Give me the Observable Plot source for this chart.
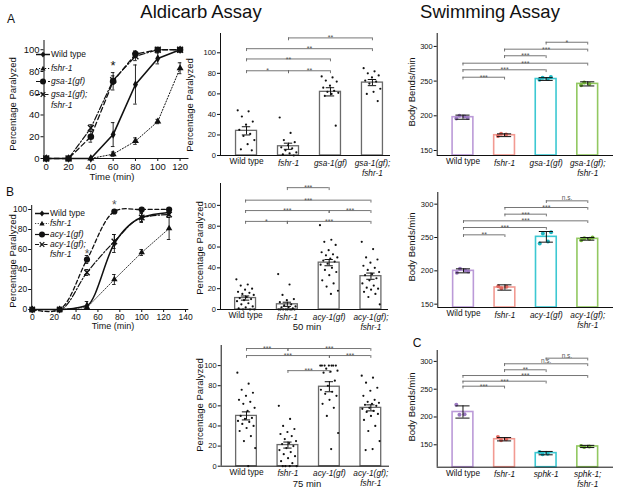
<!DOCTYPE html>
<html><head><meta charset="utf-8">
<script src="https://cdn.jsdelivr.net/npm/d3@7"></script>
<script src="https://cdn.jsdelivr.net/npm/@observablehq/plot@0.6"></script>
<style>
body{margin:0;background:#fff;font-family:"Liberation Sans",Arial,sans-serif;}
#fig{position:relative;width:617px;height:493px;overflow:hidden;background:#fff;}
.t{position:absolute;white-space:nowrap;color:#111;line-height:1;}
.lg{position:absolute;white-space:nowrap;color:#111;line-height:1;display:flex;align-items:center;}
</style></head><body><div id="fig"></div>
<script>
// ---------------- DATA ----------------
// A: aldicarb time course
const timeA = [0, 20, 40, 60, 80, 100, 120];
const wtA = [0, 0, 0, 22, 68, 92, 100];
const wtA_err = [0, 0, 0, 11, 18, 5, 0];
const fshrA = [0, 0, 0, 4, 16, 34, 83];
const fshrA_err = [0, 0, 0, 2, 3, 2, 5];
const gsaA = [0, 0, 20, 71, 96, 100, 100];
const gsaA_err = [0, 0, 5, 8, 3, 0, 0];
const gsaFshrA = [0, 0, 28, 72, 94, 100, 100];
const gsaFshrA_err = [0, 0, 3, 4, 4, 0, 0];
const starsA = [{t: 60, v: 85}];

// B: aldicarb time course
const timeB = [0, 25, 50, 75, 100, 125];
const wtB = [0, 0, 4, 66, 92, 97];
const wtB_err = [0, 0, 4, 9, 5, 3];
const fshrB = [0, 0, 2, 30, 57, 81];
const fshrB_err = [0, 0, 1, 5, 3, 11];
const acyB = [0, 0, 50, 98, 100, 100];
const acyB_err = [0, 0, 4, 1, 0, 0];
const acyFshrB = [0, 0, 37, 68, 92, 95];
const acyFshrB_err = [0, 0, 3, 7, 4, 3];
const starsB = [{t: 50, v: 55}, {t: 75, v: 104}];

// A: percentage paralyzed bars
const groupsA = ["Wild type", "fshr-1", "gsa-1(gf)", "gsa-1(gf);\nfshr-1"];
const paraA_mean = [24, 9, 62, 71];
const paraA_sem = [4, 3, 4, 3];
const paraA_pts = [
  [44, 43, 38, 33, 30, 25, 21, 19, 15, 11, 6, 5],
  [37, 22, 15, 13, 10, 8, 7, 5, 3, 2, 1, 0],
  [77, 76, 73, 72, 68, 66, 63, 62, 61, 60, 58, 29],
  [85, 82, 80, 78, 76, 73, 72, 70, 65, 62, 60, 53]
];
const paraA_sig = [[0, 1, "*"], [1, 2, "**"], [0, 2, "**"], [0, 3, "**"], [1, 3, "**"]];

// B: percentage paralyzed bars, 50 min and 75 min
const groupsB = ["Wild type", "fshr-1", "acy-1(gf)", "acy-1(gf);\nfshr-1"];
const para50_mean = [11, 5, 45, 32];
const para50_sem = [2, 2, 3, 3];
const para50_pts = [
  [29, 24, 23, 20, 19, 17, 16, 15, 14, 12, 11, 10, 9, 8, 6, 5, 3, 2, 1, 0, 0, 0],
  [34, 24, 14, 10, 9, 7, 5, 4, 3, 2, 2, 1, 0, 0, 0, 0, 0, 0, 0, 0],
  [81, 67, 65, 62, 57, 55, 53, 52, 50, 49, 47, 46, 44, 43, 40, 38, 36, 33, 28, 25, 22, 18, 15],
  [65, 58, 50, 48, 45, 42, 40, 38, 36, 34, 33, 30, 28, 25, 23, 21, 20, 19, 17, 15, 12, 5]
];
const para50_sig = [[0, 1, "*"], [1, 3, "***"], [0, 2, "***"], [2, 3, "***"], [0, 3, "***"], [1, 2, "***"]];

const para75_mean = [50, 21, 79, 58];
const para75_sem = [4, 3, 5, 3];
const para75_pts = [
  [93, 82, 76, 73, 70, 66, 64, 62, 58, 55, 50, 48, 47, 45, 44, 42, 40, 38, 35, 30, 25, 18, 0],
  [60, 47, 40, 37, 34, 32, 30, 27, 25, 23, 22, 20, 18, 16, 14, 12, 10, 8, 5, 3, 0, 0, 0, 0],
  [100, 100, 100, 100, 100, 100, 100, 97, 95, 94, 93, 85, 80, 76, 74, 72, 70, 66, 62, 58, 50, 33, 17],
  [90, 88, 83, 78, 75, 70, 66, 64, 63, 62, 61, 60, 58, 57, 55, 54, 52, 50, 46, 40, 35, 25, 17, 16]
];
const para75_sig = [[0, 1, "***"], [1, 3, "***"], [0, 2, "***"], [2, 3, "***"], [1, 2, "***"]];

// Swimming assays
const swimA_mean = [198, 172, 253, 246];
const swimA_sem = [3, 2, 2, 3];
const swimA_pts = [[196, 199, 200, 197], [171, 173, 174], [252, 253, 255, 256], [244, 246, 248]];
const swimA_sig = [[0, 1, "***"], [0, 2, "***"], [0, 3, "***"], [1, 2, "***"], [1, 3, "***"], [2, 3, "*"]];

const swimB_mean = [200, 175, 251, 248];
const swimB_sem = [3, 4, 8, 2];
const swimB_pts = [[197, 201, 203, 199], [177, 176, 174], [241, 244, 256, 258], [246, 248, 249, 250]];
const swimB_sig = [[0, 1, "**"], [0, 2, "***"], [0, 3, "***"], [1, 2, "***"], [1, 3, "***"], [2, 3, "n.s."]];

const groupsC = ["Wild type", "fshr-1", "sphk-1", "sphk-1;\nfshr-1"];
const swimC_mean = [209, 160, 135, 147];
const swimC_sem = [11, 3, 3, 2];
const swimC_pts = [[222, 205, 204], [164, 160, 158], [137, 134, 133], [148, 147, 146]];
const swimC_sig = [[0, 1, "***"], [0, 2, "***"], [0, 3, "***"], [1, 2, "**"], [1, 3, "n.s."], [2, 3, "n.s."]];

// ---------------- STYLE / LAYOUT ----------------
const FONT = "Liberation Sans, Arial, sans-serif";
const swimStroke = ["#bb9ad8", "#f29a92", "#3cc8d2", "#92c861"];
const swimFill = ["#9a78c0", "#e46a62", "#1fb5c1", "#72b03a"];
const fig = document.getElementById("fig");

function place(node, left, top) {
  node.style.position = "absolute";
  node.style.left = left + "px";
  node.style.top = top + "px";
  fig.appendChild(node);
}
function label(text, cx, cy, o = {}) {
  const d = document.createElement("div");
  d.className = "t";
  d.textContent = text;
  d.style.left = cx + "px";
  d.style.top = cy + "px";
  d.style.fontSize = (o.size || 9.5) + "px";
  if (o.italic) d.style.fontStyle = "italic";
  d.style.transform = `translate(-50%,-50%) rotate(${o.rotate || 0}deg)`;
  fig.appendChild(d);
}
function symSvg(sym, dash, w) {
  let m = "";
  if (sym === "diamond") m = '<polygon points="7,1.6 9.4,4.5 7,7.4 4.6,4.5" fill="#111"/>';
  if (sym === "triangle") m = '<polygon points="7,1.8 9.6,6.6 4.4,6.6" fill="#111"/>';
  if (sym === "circle") m = '<circle cx="7" cy="4.5" r="3" fill="#111"/>';
  if (sym === "times") m = '<path d="M4.7,2.2L9.3,6.8M9.3,2.2L4.7,6.8" stroke="#111" stroke-width="1.2"/>';
  return `<svg width="14" height="9" style="margin-right:1px"><line x1="0" x2="14" y1="4.5" y2="4.5" stroke="#111" stroke-width="${w}" ${dash ? `stroke-dasharray="${dash}"` : ""}/>${m}</svg>`;
}
function legend(x, rows, size) {
  for (const r of rows) {
    const d = document.createElement("div");
    d.className = "lg";
    d.style.fontSize = size + "px";
    d.innerHTML = (r.sym ? symSvg(r.sym, r.dash, r.w) : '<span style="display:inline-block;width:15px"></span>') +
      `<span style="${r.italic ? "font-style:italic" : ""}">${r.name}</span>`;
    d.style.left = x + "px";
    d.style.top = (r.y - 5) + "px";
    d.style.height = "10px";
    fig.appendChild(d);
  }
}

function lineChart(cfg) {
  const marks = [
    Plot.ruleX([cfg.xDomain[0]], {stroke: "#111", strokeWidth: 1}),
    Plot.ruleY([0], {stroke: "#111", strokeWidth: 1}),
    Plot.axisX({ticks: cfg.xTicks, tickSize: 3, tickPadding: 1.5, fontSize: cfg.font, label: null}),
    Plot.axisY({ticks: [0, 20, 40, 60, 80, 100], tickSize: 3, tickPadding: 1.5, fontSize: cfg.font, label: null})
  ];
  for (const s of cfg.series) {
    const rows = cfg.times.map((t, i) => ({t, v: s.v[i], e: s.e[i]}));
    const eb = rows.filter(d => d.e > 0);
    marks.push(
      Plot.line(rows, {x: "t", y: "v", curve: s.curve, stroke: "#111", strokeWidth: s.w, strokeDasharray: s.dash}),
      Plot.ruleX(eb, {x: "t", y1: d => d.v - d.e, y2: d => d.v + d.e, stroke: "#111", strokeWidth: 0.9}),
      Plot.ruleY(eb, {x1: d => d.t - cfg.cap, x2: d => d.t + cfg.cap, y: d => d.v + d.e, stroke: "#111", strokeWidth: 0.9}),
      Plot.ruleY(eb, {x1: d => d.t - cfg.cap, x2: d => d.t + cfg.cap, y: d => d.v - d.e, stroke: "#111", strokeWidth: 0.9}),
      Plot.dot(rows, {x: "t", y: "v", symbol: s.sym, r: s.r, fill: s.sym === "times" ? "none" : "#111", stroke: s.sym === "times" ? "#111" : "none", strokeWidth: 1.3})
    );
  }
  marks.push(Plot.text(cfg.stars, {x: "t", y: "v", text: () => "*", fontSize: cfg.starSize, fill: cfg.starColor}));
  return Plot.plot({
    width: cfg.width, height: cfg.height,
    marginLeft: cfg.ml, marginRight: cfg.mr, marginTop: cfg.mt, marginBottom: cfg.mb,
    x: {domain: cfg.xDomain}, y: {domain: cfg.yDomain},
    style: {background: "none", overflow: "visible", fontFamily: FONT, color: "#111"},
    marks
  });
}

function barChart(cfg) {
  const y0 = cfg.yDomain[0];
  const bars = cfg.groups.map((g, i) => ({i, g, m: cfg.means[i], s: cfg.sems[i],
    stroke: cfg.stroke ? cfg.stroke[i] : "#6a6a6a", fill: cfg.fill ? cfg.fill[i] : "#111"}));
  const dots = cfg.points.flatMap((arr, i) => arr.map((v, k) => ({x: i + (((k * 0.618034) % 1) - 0.5) * cfg.jitter, v, fill: bars[i].fill})));
  const br = cfg.sig.map(([a, b, lab], j) => ({a, b, lab, level: cfg.levels[j]}));
  const ends = br.flatMap(d => [{x: d.a, y: d.level}, {x: d.b, y: d.level}]);
  const stars = br.filter(d => d.lab.includes("*"));
  const words = br.filter(d => !d.lab.includes("*"));
  return Plot.plot({
    width: cfg.width, height: cfg.height,
    marginLeft: cfg.ml, marginRight: cfg.mr, marginTop: cfg.mt, marginBottom: cfg.mb,
    x: {domain: cfg.xDomain, axis: null}, y: {domain: cfg.yDomain},
    style: {background: "none", overflow: "visible", fontFamily: FONT, color: "#111"},
    marks: [
      Plot.axisY({ticks: cfg.yTicks, tickSize: 3, tickPadding: 1.5, fontSize: 7.5, label: null}),
      Plot.rect(bars, {x1: d => d.i - 0.25, x2: d => d.i + 0.25, y1: y0, y2: "m", fill: "white", stroke: "stroke", strokeWidth: cfg.barW}),
      Plot.dot(dots, {x: "x", y: "v", r: cfg.r, fill: "fill"}),
      Plot.ruleX(bars, {x: "i", y1: d => d.m - d.s, y2: d => d.m + d.s, stroke: "#111", strokeWidth: 1}),
      Plot.ruleY(bars, {x1: d => d.i - cfg.cap, x2: d => d.i + cfg.cap, y: d => d.m + d.s, stroke: "#111", strokeWidth: 1}),
      Plot.ruleY(bars, {x1: d => d.i - cfg.cap, x2: d => d.i + cfg.cap, y: d => d.m - d.s, stroke: "#111", strokeWidth: 1}),
      Plot.ruleX([cfg.xDomain[0]], {stroke: "#111", strokeWidth: 1}),
      Plot.ruleY([y0], {stroke: "#111", strokeWidth: 1}),
      Plot.ruleY(br, {x1: "a", x2: "b", y: "level", stroke: "#666", strokeWidth: 0.9}),
      Plot.ruleX(ends, {x: "x", y1: d => d.y - cfg.brTick, y2: "y", stroke: "#666", strokeWidth: 0.9}),
      Plot.text(stars, {x: d => (d.a + d.b) / 2, y: "level", text: "lab", fontSize: 7, fill: "#555", dy: 0.3}),
      Plot.text(words, {x: d => (d.a + d.b) / 2, y: "level", text: "lab", fontSize: 6.5, fill: "#555", lineAnchor: "bottom", dy: -0.5}),
      Plot.text(bars.filter(d => d.i === 0), {x: "i", y: y0, text: "g", lineAnchor: "top", dy: 3, fontSize: 8.3}),
      Plot.text(bars.filter(d => d.i > 0), {x: "i", y: y0, text: "g", lineAnchor: "top", dy: 3, fontSize: 8.3, fontStyle: "italic", lineHeight: 1.2})
    ]
  });
}

// ---------------- PANELS ----------------
place(lineChart({
  width: 200, height: 155, ml: 43.5, mr: 11.5, mt: 10, mb: 27,
  xDomain: [-2, 128], yDomain: [0, 108.5], xTicks: timeA, font: 9.5, cap: 1.6,
  times: timeA, stars: starsA, starSize: 13, starColor: "#111",
  series: [
    {v: fshrA, e: fshrA_err, curve: "linear", w: 1, dash: "1.2,1.8", sym: "triangle", r: 2.6},
    {v: gsaFshrA, e: gsaFshrA_err, curve: "linear", w: 1.2, dash: "6,2,1.5,2", sym: "times", r: 2.8},
    {v: gsaA, e: gsaA_err, curve: "linear", w: 1.3, dash: "5,3", sym: "circle", r: 3.3},
    {v: wtA, e: wtA_err, curve: "linear", w: 1.6, dash: null, sym: "diamond", r: 2.6}
  ]
}), 0, 30);

place(lineChart({
  width: 200, height: 145, ml: 31.2, mr: 11.7, mt: 15, mb: 26,
  xDomain: [-0.5, 143], yDomain: [0, 104], xTicks: [0, 20, 40, 60, 80, 100, 120, 140], font: 8.5, cap: 1.6,
  times: timeB, stars: starsB, starSize: 12, starColor: "#555",
  series: [
    {v: fshrB, e: fshrB_err, curve: "linear", w: 0.8, dash: "1.2,1.5", sym: "triangle", r: 2.4},
    {v: acyFshrB, e: acyFshrB_err, curve: "monotone-x", w: 1.2, dash: "6,2,1.5,2", sym: "times", r: 2.6},
    {v: acyB, e: acyB_err, curve: "catmull-rom", w: 1.3, dash: "4,2.5", sym: "circle", r: 3.1},
    {v: wtB, e: wtB_err, curve: "monotone-x", w: 1.5, dash: null, sym: "diamond", r: 2.4}
  ]
}), 0, 190);

place(barChart({
  width: 215, height: 175, ml: 40, mr: 5, mt: 13, mb: 40,
  xDomain: [-0.62, 3.43], yDomain: [0, 118.8], yTicks: [0, 20, 40, 60, 80, 100],
  groups: groupsA, means: paraA_mean, sems: paraA_sem, points: paraA_pts,
  sig: paraA_sig, levels: [82.5, 82.5, 94, 104, 114.5],
  jitter: 0.42, r: 1.1, cap: 0.1, barW: 1.3, brTick: 2.8
}), 180, 20);

place(barChart({
  width: 213, height: 170, ml: 40, mr: 5, mt: 13, mb: 31,
  xDomain: [-0.6, 3.42], yDomain: [0, 121], yTicks: [0, 20, 40, 60, 80, 100],
  groups: groupsB, means: para50_mean, sems: para50_sem, points: para50_pts,
  sig: para50_sig, levels: [84.6, 84.6, 95, 95, 105, 117],
  jitter: 0.44, r: 1.1, cap: 0.1, barW: 1.3, brTick: 2.8
}), 180, 170);

place(barChart({
  width: 214, height: 163, ml: 40.7, mr: 5, mt: 15, mb: 27.3,
  xDomain: [-0.61, 3.45], yDomain: [0, 120], yTicks: [0, 20, 40, 60, 80, 100],
  groups: groupsB, means: para75_mean, sems: para75_sem, points: para75_pts,
  sig: para75_sig, levels: [117, 117, 110, 110, 95],
  jitter: 0.44, r: 1.1, cap: 0.1, barW: 1.3, brTick: 2.8
}), 180, 330);

place(barChart({
  width: 222, height: 175, ml: 41.7, mr: 4, mt: 13, mb: 40,
  xDomain: [-0.62, 3.62], yDomain: [142.8, 318.6], yTicks: [150, 200, 250, 300],
  groups: groupsA, means: swimA_mean, sems: swimA_sem, points: swimA_pts,
  sig: swimA_sig, levels: [255.6, 266.3, 275.8, 286.5, 296, 306],
  stroke: swimStroke, fill: swimFill,
  jitter: 0.32, r: 2, cap: 0.17, barW: 1.6, brTick: 4
}), 395, 20);

place(barChart({
  width: 222, height: 165, ml: 42.3, mr: 4, mt: 17, mb: 33,
  xDomain: [-0.62, 3.62], yDomain: [145, 317.5], yTicks: [150, 200, 250, 300],
  groups: groupsB, means: swimB_mean, sems: swimB_sem, points: swimB_pts,
  sig: swimB_sig, levels: [254, 265, 275, 285, 295, 305],
  stroke: swimStroke, fill: swimFill,
  jitter: 0.32, r: 2, cap: 0.17, barW: 1.6, brTick: 4
}), 395, 175);

place(barChart({
  width: 222, height: 158, ml: 41.7, mr: 4, mt: 15, mb: 26.3,
  xDomain: [-0.62, 3.62], yDomain: [109.7, 319.6], yTicks: [150, 200, 250, 300],
  groups: groupsC, means: swimC_mean, sems: swimC_sem, points: swimC_pts,
  sig: swimC_sig, levels: [255.4, 264.4, 274.6, 284.9, 295.7, 305.8],
  stroke: swimStroke, fill: swimFill,
  jitter: 0.32, r: 2, cap: 0.17, barW: 1.6, brTick: 5
}), 395, 335);

// ---------------- TEXT ----------------
label("Aldicarb Assay", 201, 12, {size: 18.5});
label("Swimming Assay", 490, 12, {size: 18.5});
label("A", 11, 19, {size: 12});
label("B", 10, 192, {size: 12});
label("C", 417, 343, {size: 12});
label("Percentage Paralyzed", 13, 104, {rotate: -90});
label("Percentage Paralyzed", 13, 261, {rotate: -90});
label("Percentage Paralyzed", 190, 105, {rotate: -90});
label("Percentage Paralyzed", 200, 248, {rotate: -90});
label("Percentage Paralyzed", 200, 405, {rotate: -90});
label("Body Bends/min", 412, 92, {rotate: -90});
label("Body Bends/min", 412, 247, {rotate: -90});
label("Body Bends/min", 412, 407, {rotate: -90});
label("Time (min)", 112, 176.5, {size: 9.5});
label("Time (min)", 113, 326, {size: 9});
label("50 min", 307, 326.5, {size: 9.5});
label("75 min", 307, 484, {size: 9.5});

legend(36, [
  {name: "Wild type", sym: "diamond", dash: null, w: 1.5, y: 54},
  {name: "fshr-1", sym: "triangle", dash: "1.2,1.8", w: 1, y: 68.5, italic: true},
  {name: "gsa-1(gf)", sym: "circle", dash: "4,2", w: 1.2, y: 81.5, italic: true},
  {name: "gsa-1(gf);", sym: "times", dash: "4,1.5,1.5,1.5", w: 1.2, y: 94.5, italic: true},
  {name: "fshr-1", sym: null, y: 105.5, italic: true}
], 8.5);
legend(35, [
  {name: "Wild type", sym: "diamond", dash: null, w: 1.5, y: 213},
  {name: "fshr-1", sym: "triangle", dash: "1.2,1.5", w: 0.8, y: 223, italic: true},
  {name: "acy-1(gf)", sym: "circle", dash: null, w: 1.2, y: 234, italic: true},
  {name: "acy-1(gf);", sym: "times", dash: "4,1.5,1.5,1.5", w: 1.2, y: 244.5, italic: true},
  {name: "fshr-1", sym: null, y: 254.5, italic: true}
], 8.5);
</script></body></html>
